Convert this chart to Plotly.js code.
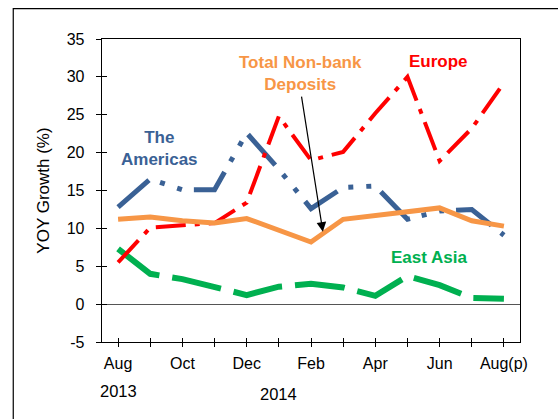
<!DOCTYPE html>
<html>
<head>
<meta charset="utf-8">
<script src="https://cdn.plot.ly/plotly-3.0.1.min.js"></script>
<style>
  html, body { margin: 0; padding: 0; background: #ffffff; }
  #chart { width: 558px; height: 419px; }
</style>
</head>
<body>
<div id="chart"></div>
<script>
// Months Aug 2013 .. Aug 2014 (p)
const months = ['Aug', 'Sep', 'Oct', 'Nov', 'Dec', 'Jan', 'Feb', 'Mar', 'Apr', 'May', 'Jun', 'Jul', 'Aug(p)'];
const tickLabels = ['Aug', '', 'Oct', '', 'Dec', '', 'Feb', '', 'Apr', '', 'Jun', '', 'Aug(p)'];
const yearLabels = ['2013', '2014'];
const yearIndex = [0, 5];
const yTicks = [-5, 0, 5, 10, 15, 20, 25, 30, 35];
const yTickText = ['-5', '0', '5', '10', '15', '20', '25', '30', '35'];

const totalDeposits = [11.2, 11.5, 11.0, 10.7, 11.3, 9.8, 8.2, 11.2, 11.7, 12.1, 12.7, 11.0, 10.3];
const europe        = [5.5, 10.1, 10.4, 10.7, 13.4, 24.8, 19.0, 20.1, 25.2, 30.0, 18.9, 23.2, 29.2];
const americas      = [12.8, 16.5, 15.1, 15.1, 22.6, 17.8, 12.6, 15.4, 15.6, 11.2, 12.3, 12.5, 9.1];
const eastAsia      = [7.3, 4.0, 3.3, 2.2, 1.2, 2.3, 2.7, 2.2, 1.1, 3.7, 2.5, 0.8, 0.7];

const idx = months.map((m, i) => i);

const FONT = "Arial, 'Liberation Sans', sans-serif";
const C_BLUE = '#3A6195';
const C_RED = '#FF0000';
const C_GREEN = '#00B050';
const C_ORANGE = '#F79646';

const traces = [
  { name: 'East Asia', x: idx, y: eastAsia, mode: 'lines',
    line: { color: C_GREEN, width: 6, dash: '50px,13px' } },
  { name: 'The Americas', x: idx, y: americas, mode: 'lines',
    line: { color: C_BLUE, width: 5, dash: '41px,12px,5px,13px,5px,12px' } },
  { name: 'Europe', x: idx, y: europe, mode: 'lines',
    line: { color: C_RED, width: 4, dash: '30px,9px,5px,9px' } },
  { name: 'Total Non-bank Deposits', x: idx, y: totalDeposits, mode: 'lines',
    line: { color: C_ORANGE, width: 5 } },
  { x: [], y: [], xaxis: 'x2', yaxis: 'y2', showlegend: false, hoverinfo: 'skip' }
];

const annotations = [
  { text: '<b>The<br>Americas</b>', x: 1.3, y: 20.5, xref: 'x', yref: 'y', showarrow: false,
    font: { family: FONT, size: 17, color: C_BLUE } },
  { text: '<b>Total Non-bank<br>Deposits</b>', x: 5.66, y: 30.5, xref: 'x', yref: 'y', showarrow: false,
    font: { family: FONT, size: 17, color: C_ORANGE } },
  { text: '<b>Europe</b>', x: 9.97, y: 32.0, xref: 'x', yref: 'y', showarrow: false,
    font: { family: FONT, size: 17, color: C_RED } },
  { text: '<b>East Asia</b>', x: 9.66, y: 6.1, xref: 'x', yref: 'y', showarrow: false,
    font: { family: FONT, size: 17, color: C_GREEN } },
  { text: '', x: 6.37, y: 9.55, xref: 'x', yref: 'y', showarrow: true,
    ax: -21.6, ay: -136.7, arrowhead: 2, arrowsize: 1.6, arrowwidth: 1.2, arrowcolor: '#000000' }
];
yearLabels.forEach((t, i) => {
  annotations.push({ text: t, x: yearIndex[i], y: i === 0 ? -0.163 : -0.17, xref: 'x', yref: 'paper',
    xanchor: 'center', yanchor: 'middle',
    showarrow: false, font: { family: FONT, size: 16.5, color: '#000000' } });
});

const layout = {
  width: 558, height: 419,
  margin: { l: 102, r: 37.5, t: 39.3, b: 76.5 },
  paper_bgcolor: '#ffffff', plot_bgcolor: '#ffffff',
  showlegend: false,
  font: { family: FONT, size: 16, color: '#000000' },
  xaxis: {
    range: [-0.5, 12.5], tickmode: 'array', tickvals: idx, ticktext: tickLabels,
    ticks: 'outside', ticklen: 4, tickwidth: 1, tickcolor: '#000000',
    showline: true, linecolor: '#000000', linewidth: 1.3, mirror: true,
    showgrid: false, zeroline: false, ticklabelstandoff: 2,
    tickfont: { family: FONT, size: 16, color: '#000000' }
  },
  xaxis2: {
    overlaying: 'x', anchor: 'y', side: 'bottom', range: [-0.5, 12.5],
    tickmode: 'array', tickvals: idx, ticks: 'inside', ticklen: 4, tickwidth: 1, tickcolor: '#000000',
    showticklabels: false, showline: false, showgrid: false, zeroline: false
  },
  yaxis: {
    range: [-5, 35], tickmode: 'array', tickvals: yTicks, ticktext: yTickText,
    ticks: 'outside', ticklen: 5, tickwidth: 1, tickcolor: '#000000',
    showline: true, linecolor: '#000000', linewidth: 1.3, mirror: true,
    showgrid: false, zeroline: true, zerolinecolor: '#555555', zerolinewidth: 1.2,
    ticklabelstandoff: 8,
    title: { text: 'YOY Growth (%)', standoff: 12, font: { family: FONT, size: 17, color: '#000000' } },
    tickfont: { family: FONT, size: 16, color: '#000000' }
  },
  yaxis2: {
    overlaying: 'y', anchor: 'x', side: 'left', range: [-5, 35],
    tickmode: 'array', tickvals: yTicks,
    ticks: 'inside', ticklen: 5, tickwidth: 1, tickcolor: '#000000',
    showticklabels: false, showline: false, showgrid: false, zeroline: false
  },
  annotations: annotations,
  shapes: [
    { type: 'rect', xref: 'paper', yref: 'paper', x0: -0.2123, x1: 1.3, y0: -0.5, y1: 1.1,
      line: { color: '#000000', width: 1.2 }, fillcolor: 'rgba(0,0,0,0)', layer: 'below' }
  ]
};

Plotly.newPlot('chart', traces, layout, { staticPlot: true, displayModeBar: false });
</script>
</body>
</html>
